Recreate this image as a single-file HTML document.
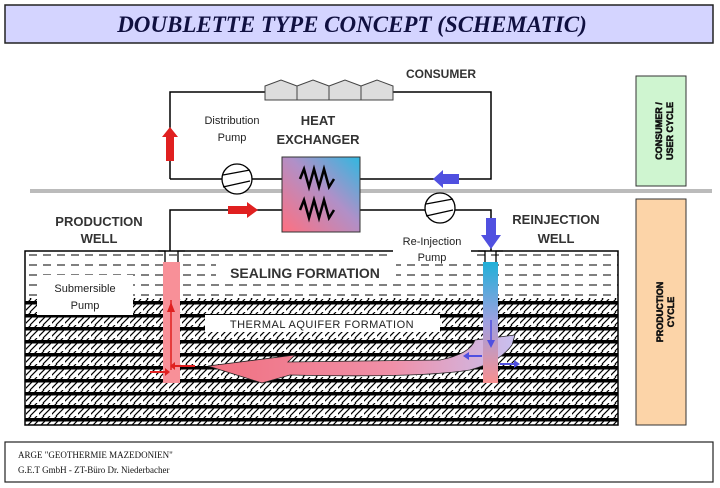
<!DOCTYPE html>
<html><head><meta charset="utf-8"><style>
html,body{margin:0;padding:0;background:#fff;width:720px;height:488px;overflow:hidden}
svg{display:block}
text{font-family:"Liberation Sans",sans-serif}
</style></head><body>
<svg width="720" height="488" viewBox="0 0 720 488" xmlns="http://www.w3.org/2000/svg">
<defs>
<pattern id="aq" width="13" height="13" patternUnits="userSpaceOnUse">
<rect width="13" height="13" fill="#fff"/>
<path d="M-2,13 L11,0 M4,13 L17,0 M-8,13 L5,0" stroke="#000" stroke-width="1.2"/>
<rect x="0" y="2" width="13" height="3.5" fill="#000"/>
</pattern>
<pattern id="seal" width="14" height="10" patternUnits="userSpaceOnUse">
<rect width="14" height="10" fill="#fff"/>
<line x1="1" y1="5" x2="9" y2="5" stroke="#000" stroke-width="1"/>
</pattern>
<linearGradient id="hx" x1="0" y1="1" x2="1" y2="0">
<stop offset="0" stop-color="#ff7080"/><stop offset="0.55" stop-color="#b090c8"/><stop offset="1" stop-color="#30b8e0"/>
</linearGradient>
<linearGradient id="rw" x1="0" y1="0" x2="0" y2="1">
<stop offset="0" stop-color="#20b0d8"/><stop offset="0.5" stop-color="#a0a0e0"/><stop offset="1" stop-color="#f89090"/>
</linearGradient>
<linearGradient id="fl" x1="0" y1="0" x2="1" y2="0">
<stop offset="0" stop-color="#f07080"/><stop offset="0.6" stop-color="#f090a8"/><stop offset="1" stop-color="#c8c0f0"/>
</linearGradient>
</defs>

<rect x="5" y="5" width="708" height="38" fill="#d4d4ff" stroke="#222" stroke-width="1.5"/>
<text x="352" y="32" text-anchor="middle" font-style="italic" font-weight="bold" font-size="23" fill="#101040" style="font-family:'Liberation Serif',serif">DOUBLETTE TYPE CONCEPT (SCHEMATIC)</text>

<rect x="30" y="189" width="682" height="4" fill="#bbb"/>

<path d="M170,179 V92 H491 V179 H170" fill="none" stroke="#000" stroke-width="1.5"/>
<g fill="#ddd" stroke="#444" stroke-width="1">
<path d="M265,100 V86 L281,80 L297,86 V100Z"/>
<path d="M297,100 V86 L313,80 L329,86 V100Z"/>
<path d="M329,100 V86 L345,80 L361,86 V100Z"/>
<path d="M361,100 V86 L377,80 L393,86 V100Z"/>
</g>
<text x="441" y="78" text-anchor="middle" font-weight="bold" font-size="12" fill="#333">CONSUMER</text>
<text x="232" y="124" text-anchor="middle" font-size="11" fill="#222">Distribution</text>
<text x="232" y="141" text-anchor="middle" font-size="11" fill="#222">Pump</text>
<text x="318" y="125" text-anchor="middle" font-weight="bold" font-size="13" fill="#333">HEAT</text>
<text x="318" y="144" text-anchor="middle" font-weight="bold" font-size="13" fill="#333">EXCHANGER</text>
<path d="M166,161 V137 H162 L170,127 L178,137 H174 V161Z" fill="#e02020"/>
<path d="M459,174 H443 V170 L433,179 L443,188 V184 H459Z" fill="#5050e0"/>

<path d="M170,251 V210 H491 V251" fill="none" stroke="#000" stroke-width="1.5"/>
<path d="M228,206 H247 V202 L258,210 L247,218 V214 H228Z" fill="#e02020"/>
<path d="M486,218 V235 H481 L491,249 L501,235 H496 V218Z" fill="#5050e0"/>

<g fill="#fff" stroke="#000" stroke-width="1.3">
<circle cx="237" cy="179" r="15"/>
<circle cx="440" cy="208" r="15"/>
</g>
<path d="M223,175 L250,170 M223,187 L250,181" stroke="#000" stroke-width="1.3"/>
<path d="M426,204 L453,199 M426,216 L453,210" stroke="#000" stroke-width="1.3"/>

<rect x="282" y="157" width="78" height="75" fill="url(#hx)" stroke="#333" stroke-width="1"/>
<path d="M300,179 L304,169 L309,187 L314,169 L319,187 L324,169 L329,187 L334,179" fill="none" stroke="#000" stroke-width="2.5"/>
<path d="M300,210 L304,200 L309,218 L314,200 L319,218 L324,200 L329,218 L334,210" fill="none" stroke="#000" stroke-width="2.5"/>

<rect x="25" y="298" width="593" height="127" fill="url(#aq)"/>
<rect x="25" y="251" width="593" height="47" fill="url(#seal)"/>
<rect x="25" y="251" width="593" height="174" fill="none" stroke="#000" stroke-width="1.5"/>

<path d="M208,366 L295,355 L288,362 L440,360 Q470,354 475,340 L515,335 L512,345 Q500,362 470,370 Q420,378 290,375 L262,383 Z" fill="url(#fl)" stroke="#222" stroke-width="0.8"/>

<rect x="37" y="275" width="96" height="40" fill="#fff"/>
<text x="85" y="292" text-anchor="middle" font-size="11" fill="#222">Submersible</text>
<text x="85" y="309" text-anchor="middle" font-size="11" fill="#222">Pump</text>
<rect x="216" y="262" width="180" height="20" fill="#fff"/>
<text x="305" y="278" text-anchor="middle" font-weight="bold" font-size="14" fill="#333">SEALING FORMATION</text>
<rect x="205" y="315" width="235" height="17" fill="#fff"/>
<text x="322" y="328" text-anchor="middle" font-size="11" fill="#222" letter-spacing="0.5">THERMAL AQUIFER FORMATION</text>
<rect x="393" y="232" width="78" height="32" fill="#fff"/>
<text x="432" y="245" text-anchor="middle" font-size="11" fill="#222">Re-Injection</text>
<text x="432" y="261" text-anchor="middle" font-size="11" fill="#222">Pump</text>

<rect x="163" y="262" width="17" height="121" fill="#f89098"/>
<path d="M158,251 H165 V262 M185,251 H178 V262" fill="none" stroke="#000" stroke-width="1.3"/>
<line x1="171" y1="300" x2="171" y2="370" stroke="#e02020" stroke-width="1.5"/>
<path d="M167,312 L171,302 L175,312Z" fill="#e02020"/>
<path d="M150,372 H165 M195,366 H175" stroke="#e02020" stroke-width="2"/>
<path d="M165,368 L170,372 L165,376Z M175,362 L170,366 L175,370Z" fill="#e02020"/>
<rect x="483" y="262" width="15" height="121" fill="url(#rw)"/>
<path d="M478,251 H485 V262 M503,251 H496 V262" fill="none" stroke="#000" stroke-width="1.3"/>
<line x1="491" y1="320" x2="491" y2="345" stroke="#5050e0" stroke-width="1.5"/>
<path d="M487,340 L491,348 L495,340Z" fill="#5050e0"/>
<path d="M465,356 H482 M500,364 H518" stroke="#5050e0" stroke-width="2"/>
<path d="M469,352 L463,356 L469,360Z M514,360 L520,364 L514,368Z" fill="#5050e0"/>

<text x="99" y="226" text-anchor="middle" font-weight="bold" font-size="13" fill="#333">PRODUCTION</text>
<text x="99" y="243" text-anchor="middle" font-weight="bold" font-size="13" fill="#333">WELL</text>
<text x="556" y="224" text-anchor="middle" font-weight="bold" font-size="13" fill="#333">REINJECTION</text>
<text x="556" y="243" text-anchor="middle" font-weight="bold" font-size="13" fill="#333">WELL</text>

<rect x="636" y="76" width="50" height="110" fill="#cff5d0" stroke="#333" stroke-width="1"/>
<text transform="translate(662,131) rotate(-90)" text-anchor="middle" font-weight="bold" font-size="9" fill="#111" stroke="#111" stroke-width="0.5">CONSUMER /</text>
<text transform="translate(673,131) rotate(-90)" text-anchor="middle" font-weight="bold" font-size="9" fill="#111" stroke="#111" stroke-width="0.5">USER CYCLE</text>
<rect x="636" y="199" width="50" height="226" fill="#fcd4a8" stroke="#333" stroke-width="1"/>
<text transform="translate(663,312) rotate(-90)" text-anchor="middle" font-weight="bold" font-size="9" fill="#111" stroke="#111" stroke-width="0.5">PRODUCTION</text>
<text transform="translate(674,312) rotate(-90)" text-anchor="middle" font-weight="bold" font-size="9" fill="#111" stroke="#111" stroke-width="0.5">CYCLE</text>

<rect x="5" y="442" width="708" height="40" fill="#fff" stroke="#222" stroke-width="1.2"/>
<text x="18" y="458" font-size="9" fill="#111" style="font-family:'Liberation Serif',serif">ARGE "GEOTHERMIE MAZEDONIEN"</text>
<text x="18" y="473" font-size="9" fill="#111" style="font-family:'Liberation Serif',serif">G.E.T GmbH - ZT-Büro Dr. Niederbacher</text>
</svg>
</body></html>
